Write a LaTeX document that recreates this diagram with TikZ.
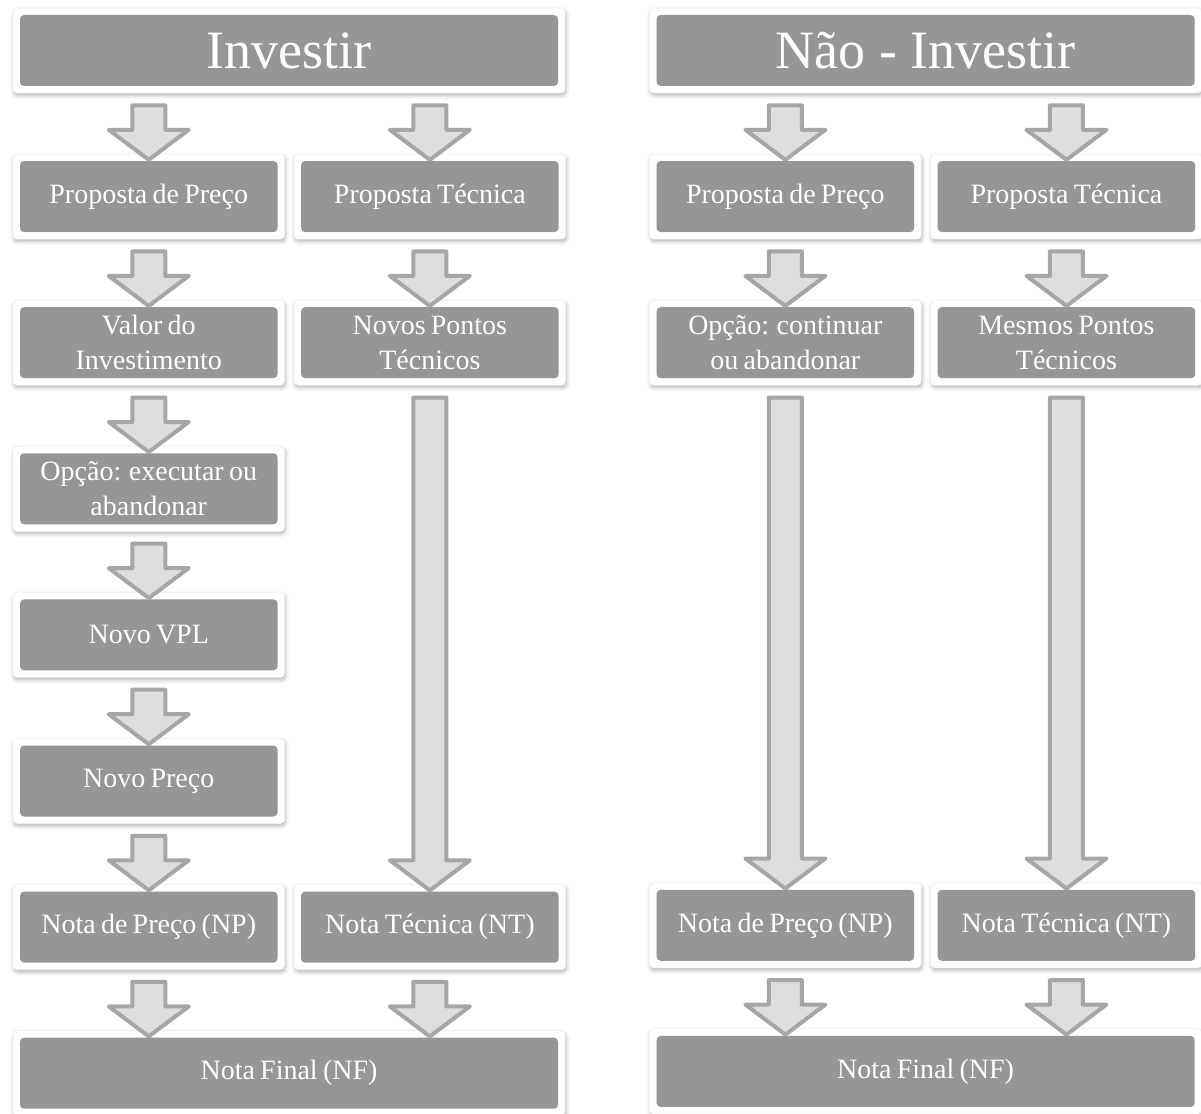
\documentclass[tikz,border=0pt]{standalone}
\usepackage{fontspec}
\setmainfont{Liberation Serif}[WordSpace=0.75]
\newfontfamily\headfont{Liberation Serif}
\usetikzlibrary{positioning, calc, shadows.blur}
\definecolor{boxgray}{HTML}{969696}
\definecolor{arrowfill}{HTML}{DEDEDE}
\definecolor{arrowline}{HTML}{A6A6A6}
\tikzset{
  card/.style={rectangle, fill=white, draw=black!6, line width=0.6pt, rounded corners=4pt, minimum width=271.5pt, minimum height=85pt, inner sep=0pt, text=white, align=flush center, text width=255pt, font=\fontsize{28}{35}\selectfont,
    blur shadow={shadow xshift=1pt, shadow yshift=-2.5pt, shadow blur radius=4pt, shadow opacity=30},
    path picture={\fill[boxgray] ([shift={(7pt,-7pt)}]path picture bounding box.north west) rectangle ([shift={(-7pt,7pt)}]path picture bounding box.south east);}},
  headcard/.style={card, minimum width=552pt, text width=530pt, font=\headfont\fontsize{54}{60}\selectfont},
  widecard/.style={card, minimum width=552pt, text width=530pt},
  blockarrow/.style={draw=arrowline, fill=arrowfill, line width=4pt, line join=round},
}
% block arrow from #1 to #2, centred on the column of #3
\newcommand{\flowarrow}[3]{%
  \draw[blockarrow] let \p1=(#1.south), \p2=(#2.north), \p3=(#3) in
    (\x3-16.5pt,\y1-12pt) -- (\x3+16.5pt,\y1-12pt) -- (\x3+16.5pt,\y2+24pt) -- (\x3+40pt,\y2+24pt)
    -- (\x3,\y2-6pt) -- (\x3-40pt,\y2+24pt) -- (\x3-16.5pt,\y2+24pt) -- cycle;}

\begin{document}
\begin{tikzpicture}[x=1pt, y=1pt, node distance=60.5pt]
  \useasboundingbox (0,0) rectangle (1201,-1113);
  % Investir
  \node[headcard] (invL) at (289,-50.5) {Investir};
  \node[card, below=60.5pt of invL.south west, anchor=north west] (precoL) {Proposta de Preço};
  \node[card, right=9pt of precoL] (tecL) {Proposta Técnica};
  \node[card, below=of precoL] (valorL) {Valor do\\Investimento};
  \node[card, right=9pt of valorL] (pontosL) {Novos Pontos\\Técnicos};
  \node[card, below=of valorL] (opcaoL) {Opção: executar ou\\abandonar};
  \node[card, below=of opcaoL] (vplL) {Novo VPL};
  \node[card, below=of vplL] (novoprecoL) {Novo Preço};
  \node[card, below=of novoprecoL] (notaprecoL) {Nota de Preço (NP)};
  \node[card, right=9pt of notaprecoL] (notatecL) {Nota Técnica (NT)};
  \node[widecard, below=60.5pt of notaprecoL.south west, anchor=north west] (finalL) {Nota Final (NF)};
  % Nao - Investir
  \node[headcard, right=84pt of invL] (invR) {Não - Investir};
  \node[card, below=60.5pt of invR.south west, anchor=north west] (precoR) {Proposta de Preço};
  \node[card, right=9pt of precoR] (tecR) {Proposta Técnica};
  \node[card, below=of precoR] (opcaoR) {Opção: continuar\\ou abandonar};
  \node[card, right=9pt of opcaoR] (pontosR) {Mesmos Pontos\\Técnicos};
  \node[card, below=4*60.5pt+3*85pt of opcaoR] (notaprecoR) {Nota de Preço (NP)};
  \node[card, right=9pt of notaprecoR] (notatecR) {Nota Técnica (NT)};
  \node[widecard, below=60.5pt of notaprecoR.south west, anchor=north west] (finalR) {Nota Final (NF)};
  % arrows
  \flowarrow{invL}{precoL}{precoL}
  \flowarrow{invL}{tecL}{tecL}
  \flowarrow{precoL}{valorL}{valorL}
  \flowarrow{tecL}{pontosL}{pontosL}
  \flowarrow{valorL}{opcaoL}{opcaoL}
  \flowarrow{opcaoL}{vplL}{vplL}
  \flowarrow{vplL}{novoprecoL}{novoprecoL}
  \flowarrow{novoprecoL}{notaprecoL}{notaprecoL}
  \flowarrow{pontosL}{notatecL}{notatecL}
  \flowarrow{notaprecoL}{finalL}{notaprecoL}
  \flowarrow{notatecL}{finalL}{notatecL}
  \flowarrow{invR}{precoR}{precoR}
  \flowarrow{invR}{tecR}{tecR}
  \flowarrow{precoR}{opcaoR}{opcaoR}
  \flowarrow{tecR}{pontosR}{pontosR}
  \flowarrow{opcaoR}{notaprecoR}{notaprecoR}
  \flowarrow{pontosR}{notatecR}{notatecR}
  \flowarrow{notaprecoR}{finalR}{notaprecoR}
  \flowarrow{notatecR}{finalR}{notatecR}
\end{tikzpicture}
\end{document}
